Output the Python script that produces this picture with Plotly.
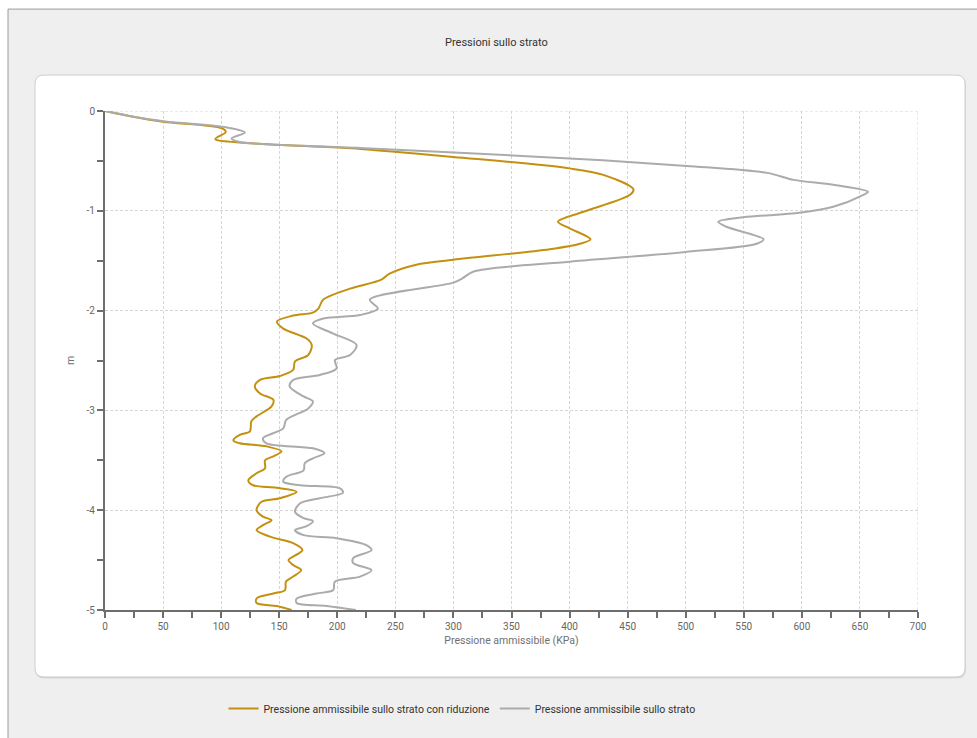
import plotly.graph_objects as go

# Depth (m) and admissible pressure (KPa) for each curve
depth_rid = [0, -0.057, -0.107, -0.17, -0.21, -0.28, -0.32, -0.38, -0.46, -0.575, -0.64,
             -0.785, -0.84, -1.01, -1.11, -1.175, -1.285, -1.33, -1.385, -1.49, -1.54,
             -1.63, -1.69, -1.78, -1.89, -1.98, -2.02, -2.05, -2.11, -2.18, -2.28, -2.345,
             -2.445, -2.51, -2.595, -2.655, -2.695, -2.76, -2.83, -2.895, -2.96, -3.06,
             -3.11, -3.21, -3.245, -3.30, -3.33, -3.36, -3.41, -3.46, -3.50, -3.58, -3.63,
             -3.70, -3.75, -3.775, -3.815, -3.88, -3.915, -4.0, -4.065, -4.10, -4.15, -4.20,
             -4.265, -4.33, -4.40, -4.465, -4.50, -4.55, -4.60, -4.665, -4.715, -4.80,
             -4.835, -4.885, -4.93, -4.96, -5.0]
press_rid = [0, 24, 50, 100, 104, 95, 122, 220, 300, 400, 429,
             455, 452, 412, 390, 400, 418, 409, 383, 300, 268,
             245, 238, 211, 188, 183.7, 179, 162, 148, 153.5, 173.6, 178,
             175, 163.6, 162, 150.7, 133.5, 129, 133.5, 145, 143.4, 130.5,
             126, 124.8, 116, 110.5, 116, 139, 152, 145, 137.8, 137.8, 130.5,
             123.4, 127.6, 147.8, 165, 150.7, 134.8, 130.5, 136, 143.4, 136, 130.5,
             142, 162, 170, 162, 158, 162, 169, 162, 155.8, 155,
             145, 130.5, 130.5, 148, 160.7]

depth_full = [0, -0.057, -0.105, -0.165, -0.215, -0.275, -0.31, -0.37, -0.475, -0.55, -0.62,
              -0.69, -0.74, -0.81, -0.84, -0.96, -1.02, -1.065, -1.11, -1.16, -1.285, -1.33,
              -1.415, -1.51, -1.61, -1.675, -1.72, -1.89, -1.98, -2.045, -2.08, -2.13, -2.23,
              -2.345, -2.445, -2.495, -2.58, -2.645, -2.695, -2.76, -2.86, -2.91, -2.98,
              -3.095, -3.18, -3.28, -3.33, -3.38, -3.43, -3.48, -3.53, -3.60, -3.665, -3.715,
              -3.75, -3.78, -3.825, -3.88, -3.93, -4.015, -4.08, -4.11, -4.16, -4.20, -4.25,
              -4.28, -4.35, -4.40, -4.48, -4.53, -4.60, -4.665, -4.715, -4.80, -4.835, -4.885,
              -4.93, -4.96, -5.0]
press_full = [0, 25, 52, 105, 120.5, 109, 116, 219.6, 400, 500.8, 570,
              593, 627, 657, 653, 627, 598, 549.6, 528, 535, 567, 561,
              498, 400, 317, 308, 300, 228, 235, 219.6, 188, 179, 196.5,
              216.6, 211, 198, 199.4, 185, 162, 159, 171, 179, 175,
              156, 153.5, 136, 139, 179, 189, 179, 172, 171, 156, 153.5,
              168, 202, 205, 185, 168, 163.6, 171, 179, 173.6, 163.6, 171,
              199.4, 225, 229.5, 213.7, 213.7, 229.5, 219.6, 198, 196.5, 182, 165,
              165, 191, 216]

x_ticks = list(range(0, 701, 50))
y_ticks = [0, -1, -2, -3, -4, -5]
x_range = [0, 700]
y_range = [-5, 0]

W, H = 977, 738
L, R, T, B = 105, 918, 111, 610.5


def fx(p):
    return (p - L) / (R - L)


def fy(p):
    return (B - p) / (B - T)


def rounded_rect(x0, y0, x1, y1, r):
    pts = [
        f"M {fx(x0 + r)},{fy(y0)}",
        f"L {fx(x1 - r)},{fy(y0)}",
        f"Q {fx(x1)},{fy(y0)} {fx(x1)},{fy(y0 + r)}",
        f"L {fx(x1)},{fy(y1 - r)}",
        f"Q {fx(x1)},{fy(y1)} {fx(x1 - r)},{fy(y1)}",
        f"L {fx(x0 + r)},{fy(y1)}",
        f"Q {fx(x0)},{fy(y1)} {fx(x0)},{fy(y1 - r)}",
        f"L {fx(x0)},{fy(y0 + r)}",
        f"Q {fx(x0)},{fy(y0)} {fx(x0 + r)},{fy(y0)}",
        "Z",
    ]
    return " ".join(pts)


FONT = "Roboto, Open Sans, sans-serif"
ORANGE = "#C4900F"
GREY = "#ABABAB"
GRID = "#D6D6D6"
GRID_DASH = "3px,2px"

fig = go.Figure()
fig.add_trace(go.Scatter(
    x=press_rid, y=depth_rid, mode="lines",
    name="Pressione ammissibile sullo strato con riduzione",
    line=dict(color=ORANGE, width=2, shape="spline", smoothing=0.9),
))
fig.add_trace(go.Scatter(
    x=press_full, y=depth_full, mode="lines",
    name="Pressione ammissibile sullo strato",
    line=dict(color=GREY, width=2, shape="spline", smoothing=0.9),
))

shapes = [
    # outer frame
    dict(type="rect", xref="paper", yref="paper", layer="below",
         x0=fx(8), x1=fx(W + 20), y0=fy(9), y1=fy(H + 20),
         fillcolor="#EFEFEF", line=dict(color="#9A9A9A", width=1)),
    # panel shadow
    dict(type="path", xref="paper", yref="paper", layer="below",
         path=rounded_rect(35, 76, 966, 679, 9),
         fillcolor="#D6D6D6", line=dict(width=0)),
    # white panel
    dict(type="path", xref="paper", yref="paper", layer="below",
         path=rounded_rect(35, 75, 965, 677.5, 9),
         fillcolor="#FFFFFF", line=dict(color="#CFCFCF", width=1)),
    # grid lines along the top and right edges of the plot area
    dict(type="line", xref="x", yref="y", layer="below",
         x0=x_range[0], x1=x_range[1], y0=y_range[1], y1=y_range[1],
         line=dict(color=GRID, width=1, dash=GRID_DASH)),
    dict(type="line", xref="x", yref="y", layer="below",
         x0=x_range[1], x1=x_range[1], y0=y_range[0], y1=y_range[1],
         line=dict(color=GRID, width=1, dash=GRID_DASH)),
]

axis_common = dict(
    showline=True, linecolor="#6E6E6E", linewidth=2,
    ticks="outside", ticklen=6, tickwidth=1.5, tickcolor="#6E6E6E",
    showgrid=True, gridcolor=GRID, gridwidth=1, griddash=GRID_DASH,
    zeroline=False,
    tickfont=dict(family=FONT, size=10, color="#666666"),
)

fig.update_layout(
    width=W, height=H, autosize=False,
    margin=dict(l=L, r=W - R, t=T, b=H - B),
    paper_bgcolor="#FFFFFF", plot_bgcolor="rgba(0,0,0,0)",
    shapes=shapes,
    showlegend=True,
    legend=dict(orientation="h", x=fx(462), xanchor="center",
                y=fy(709), yanchor="middle",
                bgcolor="rgba(0,0,0,0)",
                font=dict(family=FONT, size=10.5, color="#333333"),
                itemwidth=30, tracegroupgap=0),
    xaxis=dict(axis_common, range=x_range, tickvals=x_ticks,
               ticktext=[str(v) for v in x_ticks],
               minor=dict(dtick=25, ticks="outside", ticklen=6,
                          tickcolor="#6E6E6E", tickwidth=1.5, showgrid=False),
               title=dict(text="Pressione ammissibile (KPa)", standoff=6,
                          font=dict(family=FONT, size=10.5, color="#707070"))),
    yaxis=dict(axis_common, range=y_range, tickvals=y_ticks,
               ticktext=[str(v) for v in y_ticks],
               minor=dict(dtick=0.5, ticks="outside", ticklen=6,
                          tickcolor="#6E6E6E", tickwidth=1.5, showgrid=False),
               title=dict(text="m", standoff=10,
                          font=dict(family=FONT, size=10.5, color="#707070"))),
    annotations=[dict(text="Pressioni sullo strato", xref="paper", yref="paper",
                      x=fx(496), y=fy(42), xanchor="center", yanchor="middle",
                      showarrow=False,
                      font=dict(family=FONT, size=11, color="#333333"))],
)

fig.write_html("out.html", config={"displayModeBar": False})
